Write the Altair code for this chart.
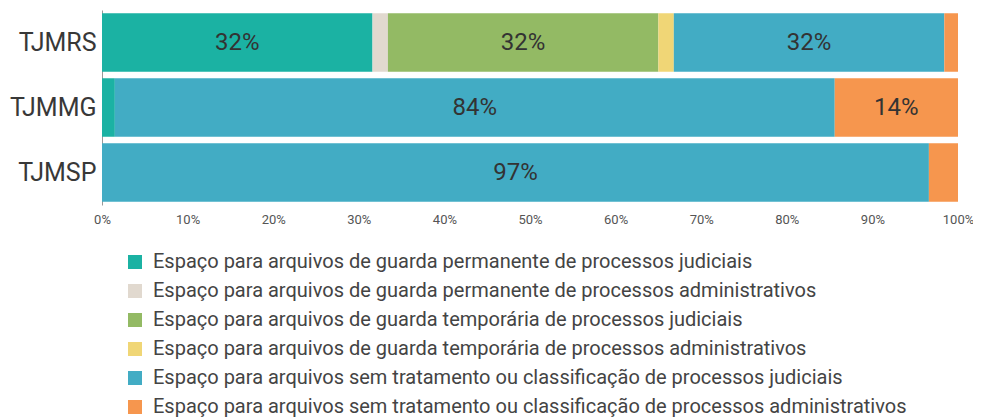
import altair as alt
import pandas as pd

tribunais = ["TJMRS", "TJMMG", "TJMSP"]
categorias = [
    "Espaço para arquivos de guarda permanente de processos judiciais",
    "Espaço para arquivos de guarda permanente de processos administrativos",
    "Espaço para arquivos de guarda temporária de processos judiciais",
    "Espaço para arquivos de guarda temporária de processos administrativos",
    "Espaço para arquivos sem tratamento ou classificação de processos judiciais",
    "Espaço para arquivos sem tratamento ou classificação de processos administrativos",
]
cores = ["#1bb2a3", "#e1d9cf", "#93ba64", "#f0d676", "#42acc4", "#f6964e"]

# percent values per category, in tribunal order (TJMRS, TJMMG, TJMSP)
perm_jud = [31.6, 1.5, 0.0]
perm_adm = [1.8, 0.0, 0.0]
temp_jud = [31.6, 0.0, 0.0]
temp_adm = [1.8, 0.0, 0.0]
sem_jud = [31.6, 84.1, 96.6]
sem_adm = [1.6, 14.4, 3.4]

series = [perm_jud, perm_adm, temp_jud, temp_adm, sem_jud, sem_adm]
rows = []
for ci, (cat, vals) in enumerate(zip(categorias, series)):
    for ti, t in enumerate(tribunais):
        rows.append({"tribunal": t, "categoria": cat, "ord": ci, "value": vals[ti]})
df = pd.DataFrame(rows)

base = alt.Chart(df).transform_stack(
    stack="value", as_=["v0", "v1"], groupby=["tribunal"],
    sort=[alt.SortField("ord", order="ascending")]
)

y_enc = alt.Y(
    "tribunal:N", sort=tribunais, title=None,
    scale=alt.Scale(paddingInner=0.1, paddingOuter=0.05),
    axis=alt.Axis(labelFontSize=25, labelColor="#383838", labelFont="Roboto",
                  ticks=False, domain=True, domainColor="#999999", labelPadding=6),
)

bars = base.mark_bar().encode(
    x=alt.X("v0:Q", scale=alt.Scale(domain=[0, 100], nice=False), title=None,
            axis=alt.Axis(values=list(range(0, 101, 10)), labelExpr="datum.value + '%'",
                          grid=False, domain=False, ticks=False, labelFontSize=13,
                          labelFlush=False, labelFont="Roboto", labelColor="#555555",
                          labelPadding=8)),
    x2="v1:Q",
    y=y_enc,
    color=alt.Color("categoria:N", scale=alt.Scale(domain=categorias, range=cores),
                    sort=categorias,
                    legend=alt.Legend(title=None, orient="none", legendX=23, legendY=242,
                                      symbolType="square", symbolSize=196,
                                      symbolStrokeWidth=0, labelFontSize=20,
                                      labelFont="Roboto", labelColor="#444444",
                                      labelLimit=0, rowPadding=9, labelOffset=8)),
)

text = base.transform_filter("datum.value >= 5").transform_calculate(
    mid="(datum.v0 + datum.v1) / 2",
    label="format(datum.value / 100, '.0%')",
).mark_text(fontSize=24, font="Roboto", color="#333333", baseline="middle").encode(
    x="mid:Q",
    y=alt.Y("tribunal:N", sort=tribunais),
    text="label:N",
)

chart = (bars + text).properties(
    width=856, height=195,
    autosize=alt.AutoSizeParams(type="none"),
    padding={"left": 94, "top": 2, "right": 15, "bottom": 215},
).configure_view(stroke=None)

chart.save("out.html", embed_options={"renderer": "svg", "actions": False})
